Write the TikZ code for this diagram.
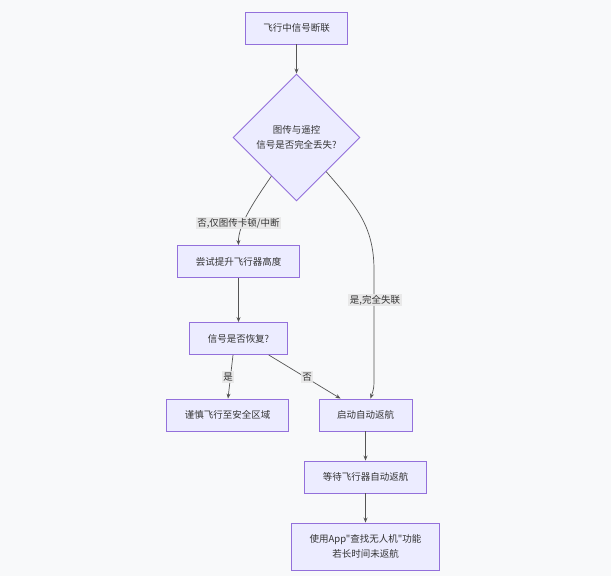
\documentclass[tikz,border=0pt]{standalone}
\usepackage{fontspec}
\setmainfont{Noto Sans CJK SC}[Ligatures=TeXOff]
\usetikzlibrary{arrows.meta,shapes.geometric}
\definecolor{boxfill}{HTML}{ECECFF}
\definecolor{boxline}{HTML}{9370DB}
\definecolor{flowline}{HTML}{555555}
\definecolor{lblfill}{HTML}{E8E8E8}
\definecolor{pagebg}{HTML}{F8F9FA}
\begin{document}
\begin{tikzpicture}[x=1pt, y=-1pt,
	every node/.style={font=\fontsize{9.5}{15.5}\selectfont, text=black!80},
	stepbox/.style={draw=boxline, fill=boxfill, line width=0.9pt, minimum height=32pt, inner xsep=18pt, align=center},
	askbox/.style={diamond, draw=boxline, fill=boxfill, line width=0.9pt, minimum size=127pt, inner sep=0pt, align=center},
	flow/.style={draw=flowline, line width=0.7pt, -{Stealth[length=5pt,width=4pt]}},
	lbl/.style={fill=lblfill, fill opacity=0.9, text opacity=1, inner sep=1.5pt}]
			%Background
			\fill[pagebg] (0,0) rectangle (611,576);
			\useasboundingbox (0,0) rectangle (611,576);
			%Nodes
			\node[stepbox] (lost) at (296.5,28) {飞行中信号断联};
			\node[askbox] (allgone) at (296.5,137.5) {图传与遥控\\信号是否完全丢失?};
			\node[stepbox] (climb) at (238.5,261.5) {尝试提升飞行器高度};
			\node[stepbox] (back) at (238.5,338.5) {信号是否恢复?};
			\node[stepbox] (safe) at (227.5,415) {谨慎飞行至安全区域};
			\node[stepbox] (rth) at (365.5,415) {启动自动返航};
			\node[stepbox] (wait) at (365.5,477) {等待飞行器自动返航};
			\node[stepbox, minimum height=47pt] (find) at (365.5,546.5) {使用App"查找无人机"功能\\若长时间未返航};
			%Connectors
			\draw[flow] (lost) -- (allgone);
			\draw[flow] (allgone.237) .. controls (255,200) and (238,225) .. (climb.north);
			\draw[flow] (allgone.311) .. controls (355,205) and (374,225) .. (374,270) -- (374,375) .. controls (374,388) .. ([xshift=5pt]rth.north);
			\draw[flow] (climb) -- (back);
			\draw[flow] ([xshift=-5.5pt]back.south) -- ([xshift=0.5pt]safe.north);
			\draw[flow] ([xshift=-19pt]back.south east) -- ([xshift=-25pt]rth.north);
			\draw[flow] (rth) -- (wait);
			\draw[flow] (wait) -- (find);
			%Labels
			\node[lbl] (nopart) at (238.5,223) {否,仅图传卡顿/中断};
			\node[lbl] (yesall) at (375,300) {是,完全失联};
			\node[lbl] (yesback) at (228,377) {是};
			\node[lbl] (noback) at (307,377) {否};
\end{tikzpicture}
\end{document}
